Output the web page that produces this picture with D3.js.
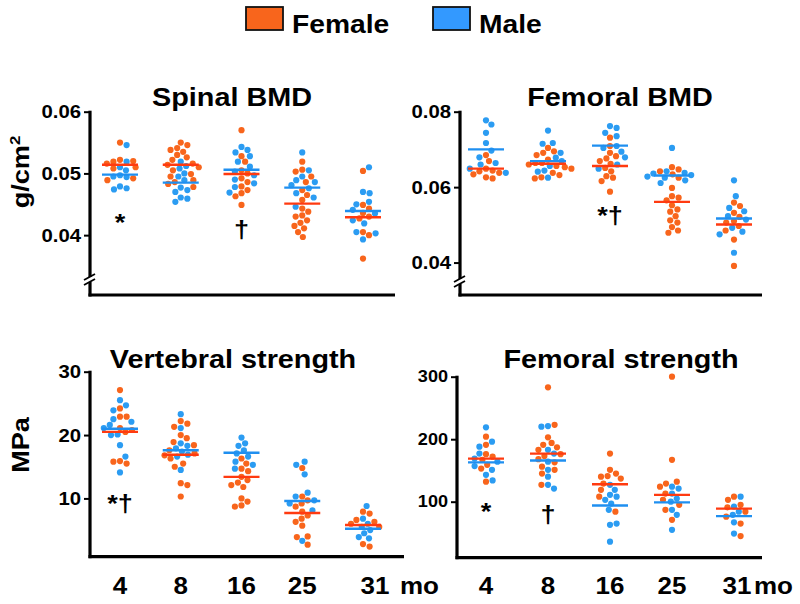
<!DOCTYPE html>
<html>
<head>
<meta charset="utf-8">
<script src="https://cdn.jsdelivr.net/npm/d3@7"></script>
<style>
  body { margin: 0; background: #fff; }
  text { font-family: "Liberation Sans", Arial, sans-serif; font-weight: bold; fill: #000; }
</style>
</head>
<body>
<svg id="chart" width="800" height="604"></svg>
<script>
// ages (months)
const ages = ["4", "8", "16", "25", "31"];

// Spinal BMD (g/cm2)
const spinalF = [
  [0.0550, 0.0522, 0.0519, 0.0520, 0.0516, 0.0510, 0.0508, 0.0492, 0.0489],
  [0.0550, 0.0546, 0.0541, 0.0538, 0.0535, 0.0530, 0.0526, 0.0522, 0.0516, 0.0514, 0.0510, 0.0505, 0.0499, 0.0495, 0.0489, 0.0486, 0.0483, 0.0478],
  [0.0570, 0.0528, 0.0519, 0.0505, 0.0500, 0.0492, 0.0486, 0.0479, 0.0473, 0.0468, 0.0463, 0.0449],
  [0.0519, 0.0506, 0.0503, 0.0495, 0.0486, 0.0473, 0.0465, 0.0457, 0.0443, 0.0438, 0.0432, 0.0430, 0.0424, 0.0420, 0.0415, 0.0411, 0.0405, 0.0397],
  [0.0504, 0.0449, 0.0443, 0.0436, 0.0430, 0.0427, 0.0405, 0.0400, 0.0362]
];
const spinalM = [
  [0.0546, 0.0519, 0.0510, 0.0505, 0.0497, 0.0494, 0.0495, 0.0479, 0.0476, 0.0474],
  [0.0519, 0.0512, 0.0508, 0.0500, 0.0495, 0.0489, 0.0477, 0.0473, 0.0470, 0.0461, 0.0459, 0.0454],
  [0.0543, 0.0538, 0.0534, 0.0528, 0.0519, 0.0511, 0.0503, 0.0497, 0.0490, 0.0484, 0.0478, 0.0469],
  [0.0534, 0.0505, 0.0495, 0.0489, 0.0486, 0.0481, 0.0476, 0.0468, 0.0461, 0.0446],
  [0.0510, 0.0470, 0.0468, 0.0454, 0.0450, 0.0441, 0.0435, 0.0424, 0.0419, 0.0405, 0.0403, 0.0393]
];
const spinalMeanF = [0.0514, 0.0514, 0.0499, 0.0451, 0.0429];
const spinalMeanM = [0.0498, 0.0485, 0.0506, 0.0477, 0.0439];

// Femoral BMD (g/cm2)
const femBmdF = [
  [0.0685, 0.0669, 0.0649, 0.0644, 0.0642, 0.0638, 0.0634, 0.0626, 0.0623],
  [0.0704, 0.0695, 0.0691, 0.0685, 0.0673, 0.0664, 0.0664, 0.0660, 0.0656, 0.0653, 0.0649, 0.0638, 0.0632, 0.0626, 0.0623],
  [0.0731, 0.0709, 0.0691, 0.0682, 0.0676, 0.0669, 0.0662, 0.0651, 0.0642, 0.0629, 0.0625, 0.0616, 0.0588],
  [0.0653, 0.0647, 0.0642, 0.0634, 0.0625, 0.0598, 0.0576, 0.0572, 0.0565, 0.0552, 0.0541, 0.0535, 0.0523, 0.0512, 0.0506, 0.0494, 0.0485, 0.0479],
  [0.0559, 0.0550, 0.0532, 0.0521, 0.0510, 0.0506, 0.0497, 0.0485, 0.0461, 0.0391]
];
const femBmdM = [
  [0.0777, 0.0766, 0.0744, 0.0717, 0.0697, 0.0679, 0.0664, 0.0660, 0.0649, 0.0638],
  [0.0750, 0.0717, 0.0715, 0.0691, 0.0678, 0.0669, 0.0656, 0.0644, 0.0641, 0.0625],
  [0.0762, 0.0757, 0.0744, 0.0735, 0.0709, 0.0704, 0.0694, 0.0679, 0.0660, 0.0649],
  [0.0704, 0.0642, 0.0638, 0.0636, 0.0632, 0.0628, 0.0625, 0.0618, 0.0611],
  [0.0618, 0.0576, 0.0545, 0.0536, 0.0523, 0.0514, 0.0492, 0.0482, 0.0475, 0.0426]
];
const femBmdMeanF = [0.0649, 0.0662, 0.0656, 0.0561, 0.0501];
const femBmdMeanM = [0.0700, 0.0669, 0.0710, 0.0631, 0.0517];

// Vertebral strength (MPa)
const vertF = [
  [27.1, 24.2, 22.9, 22.9, 21.1, 20.5, 20.8, 15.9, 15.5, 15.8],
  [22.2, 21.8, 21.3, 20.0, 19.5, 18.9, 18.4, 17.6, 17.1, 16.8, 16.3, 15.5, 15.0, 12.4, 12.1, 10.3],
  [16.3, 15.5, 14.7, 14.3, 13.4, 12.9, 12.5, 12.1, 11.8, 10.0, 9.5, 8.9, 8.7],
  [14.8, 10.3, 9.7, 9.2, 8.7, 7.9, 7.3, 6.8, 6.3, 5.7, 4.0, 3.9, 2.7],
  [7.9, 7.6, 6.6, 6.3, 6.0, 5.5, 2.8, 2.4]
];
const vertM = [
  [25.5, 24.7, 23.9, 22.5, 22.1, 21.6, 21.1, 20.1, 20.0, 18.4, 16.6, 14.1],
  [23.3, 21.1, 18.7, 18.3, 17.9, 17.4, 16.9, 16.6, 14.5],
  [19.6, 18.7, 18.3, 17.6, 17.1, 16.6, 15.8, 15.3, 14.7],
  [15.8, 15.3, 13.8, 10.9, 10.3, 9.7, 9.2, 8.1, 3.3],
  [8.8, 6.8, 6.0, 5.5, 5.0, 4.5, 3.9, 3.7]
];
const vertMeanF = [20.5, 16.9, 13.4, 7.7, 5.8];
const vertMeanM = [21.0, 17.6, 17.2, 9.6, 5.2];

// Femoral strength (MPa)
const femStrF = [
  [204, 191, 176, 172, 167, 159, 153, 132],
  [283, 223, 203, 194, 191, 187, 183, 176, 173, 168, 163, 156, 151, 145, 127],
  [177, 151, 145, 141, 140, 137, 129, 119, 108, 84],
  [300, 167, 132, 129, 124, 113, 103, 95, 87, 71],
  [108, 103, 95, 91, 84, 76, 65, 45]
];
const femStrM = [
  [219, 196, 188, 177, 169, 164, 157, 151, 143, 134],
  [221, 220, 183, 177, 164, 151, 140, 127, 121],
  [127, 119, 111, 108, 103, 97, 87, 63, 65, 36],
  [124, 121, 113, 105, 100, 87, 79, 55],
  [108, 92, 84, 79, 67, 49]
];
const femStrMeanF = [169, 177, 128, 111, 89];
const femStrMeanM = [163, 166, 94, 99, 77];

const femaleColor = "#f8651c";
const maleColor = "#2b9cf2";
const femaleLine = "#ff3a10";
const maleLine = "#1f8ff0";

const svg = d3.select("#chart");
const SX = 1.13; // horizontal stretch of lettering

function label(g, x, y, str, size, anchor) {
  return g.append("text")
    .attr("transform", `translate(${x},${y}) scale(${SX},1)`)
    .attr("text-anchor", anchor || "middle")
    .attr("font-size", size)
    .text(str);
}

// legend
const legend = svg.append("g");
[["Female", femaleColor, 246], ["Male", "#3399ff", 433]].forEach(([name, col, lx]) => {
  legend.append("rect").attr("x", lx).attr("y", 7).attr("width", 37).attr("height", 23)
    .attr("fill", col).attr("stroke", "#111").attr("stroke-width", 1.8);
  label(legend, lx + 46, 33, name, 25, "start");
});

const panels = [
  { title: "Spinal BMD", F: spinalF, M: spinalM, mF: spinalMeanF, mM: spinalMeanM,
    domain: [0.0303, 0.06], ticks: [0.04, 0.05, 0.06], fmt: d3.format(".2f"),
    left: 90, right: 395, top: 111.7, bottom: 295, gx: [120, 363], tx: 232, ty: 106,
    tick: 18, brk: 280, yLabel: "g/cm", notes: [["*", 0, 231], ["\u2020", 2, 238]] },
  { title: "Femoral BMD", F: femBmdF, M: femBmdM, mF: femBmdMeanF, mM: femBmdMeanM,
    domain: [0.0314, 0.08], ticks: [0.04, 0.06, 0.08], fmt: d3.format(".2f"),
    left: 460, right: 762, top: 111.7, bottom: 295, gx: [486, 734], tx: 620, ty: 106,
    tick: 18, brk: 282, notes: [["*\u2020", 2, 224]] },
  { title: "Vertebral strength", F: vertF, M: vertM, mF: vertMeanF, mM: vertMeanM,
    domain: [0.8, 30], ticks: [10, 20, 30], fmt: d3.format("d"),
    left: 90, right: 404, top: 371.7, bottom: 556.7, gx: [120, 363], tx: 233, ty: 368,
    tick: 18, yLabel: "MPa", notes: [["*\u2020", 0, 512]], xLabels: true, lastOff: 12, moOff: 37 },
  { title: "Femoral strength", F: femStrF, M: femStrM, mF: femStrMeanF, mM: femStrMeanM,
    domain: [10.4, 300], ticks: [100, 200, 300], fmt: d3.format("d"),
    left: 457, right: 762, top: 376.7, bottom: 557.7, gx: [486, 734], tx: 621, ty: 368,
    tick: 16, notes: [["*", 0, 520], ["\u2020", 1, 523]], xLabels: true, lastOff: 3, moOff: 20 }
];

const r = 3.1;
const minDist = 6.6;

// simple beeswarm: place each dot at the smallest sideways offset that does not overlap
function dodge(items) {
  const placed = [];
  items.forEach(p => {
    let off = 0;
    for (let k = 0; k < 200; k++) {
      const cand = (k % 2 ? 1 : -1) * Math.ceil(k / 2) * 0.6;
      const hit = placed.some(q => (q.dx - cand) ** 2 + (q.py - p.py) ** 2 < minDist * minDist);
      if (!hit) { off = cand; break; }
    }
    p.dx = off;
    placed.push(p);
  });
  return items;
}

panels.forEach(P => {
  const g = svg.append("g");
  const y = d3.scaleLinear().domain(P.domain).range([P.bottom, P.top]);
  const x = d3.scalePoint().domain(ages).range(P.gx);

  // title
  label(g, P.tx, P.ty, P.title, 25.5);

  // dots
  ages.forEach((a, i) => {
    const items = [];
    const f = P.F[i], m = P.M[i];
    const n = Math.max(f.length, m.length);
    for (let k = 0; k < n; k++) {
      if (k < f.length) items.push({ v: f[k], sex: "F", py: y(f[k]) });
      if (k < m.length) items.push({ v: m[k], sex: "M", py: y(m[k]) });
    }
    dodge(items);
    g.selectAll(null).data(items).join("circle")
      .attr("cx", d => x(a) + d.dx)
      .attr("cy", d => d.py)
      .attr("r", r)
      .attr("fill", d => d.sex === "F" ? femaleColor : maleColor);
  });

  // mean lines
  const half = 18;
  g.selectAll(null).data(ages).join("line")
    .attr("x1", d => x(d) - half).attr("x2", d => x(d) + half)
    .attr("y1", (d, i) => y(P.mM[i])).attr("y2", (d, i) => y(P.mM[i]))
    .attr("stroke", maleLine).attr("stroke-width", 2.4);
  g.selectAll(null).data(ages).join("line")
    .attr("x1", d => x(d) - half).attr("x2", d => x(d) + half)
    .attr("y1", (d, i) => y(P.mF[i])).attr("y2", (d, i) => y(P.mF[i]))
    .attr("stroke", femaleLine).attr("stroke-width", 2.4);

  // y axis
  const yAxis = g.append("g").attr("transform", `translate(${P.left},0)`)
    .call(d3.axisLeft(y).tickValues(P.ticks).tickFormat(P.fmt).tickSize(6).tickSizeOuter(0));
  yAxis.select(".domain").remove();
  yAxis.selectAll(".tick line").attr("stroke", "#000").attr("stroke-width", 2);
  yAxis.selectAll(".tick text").remove();
  P.ticks.forEach(t => label(yAxis, -9, y(t) + P.tick * 0.36, P.fmt(t), P.tick, "end"));

  g.append("line").attr("x1", P.left).attr("x2", P.left)
    .attr("y1", P.top - 1).attr("y2", P.bottom + 1.5)
    .attr("stroke", "#000").attr("stroke-width", 3.2);
  g.append("line").attr("x1", P.left - 1.5).attr("x2", P.right)
    .attr("y1", P.bottom).attr("y2", P.bottom)
    .attr("stroke", "#000").attr("stroke-width", 3.2);

  // axis break
  if (P.brk) {
    g.append("rect").attr("x", P.left - 3).attr("y", P.brk - 3).attr("width", 6).attr("height", 5).attr("fill", "#fff");
    [-3, 2].forEach(o => {
      g.append("line").attr("x1", P.left - 6).attr("x2", P.left + 5)
        .attr("y1", P.brk + o + 3).attr("y2", P.brk + o - 3)
        .attr("stroke", "#000").attr("stroke-width", 1.8);
    });
  }

  // y label
  if (P.yLabel) {
    const t = g.append("text").attr("transform", `translate(29,${P.yLabel === "MPa" ? 445 : 172}) rotate(-90) scale(${SX},1)`)
      .attr("text-anchor", "middle").attr("font-size", 24).text(P.yLabel);
    if (P.yLabel === "g/cm") t.append("tspan").attr("font-size", 15).attr("dy", -9).text("2");
  }

  // significance marks
  P.notes.forEach(([s, gi, ny]) => label(g, x(ages[gi]), ny, s, 24));

  // x labels
  if (P.xLabels) {
    ages.forEach(a => label(g, x(a) + (a === "31" ? P.lastOff : 0), 594, a, 23));
    label(g, x("31") + P.moOff, 594, "mo", 23, "start");
  }
});
</script>
</body>
</html>
